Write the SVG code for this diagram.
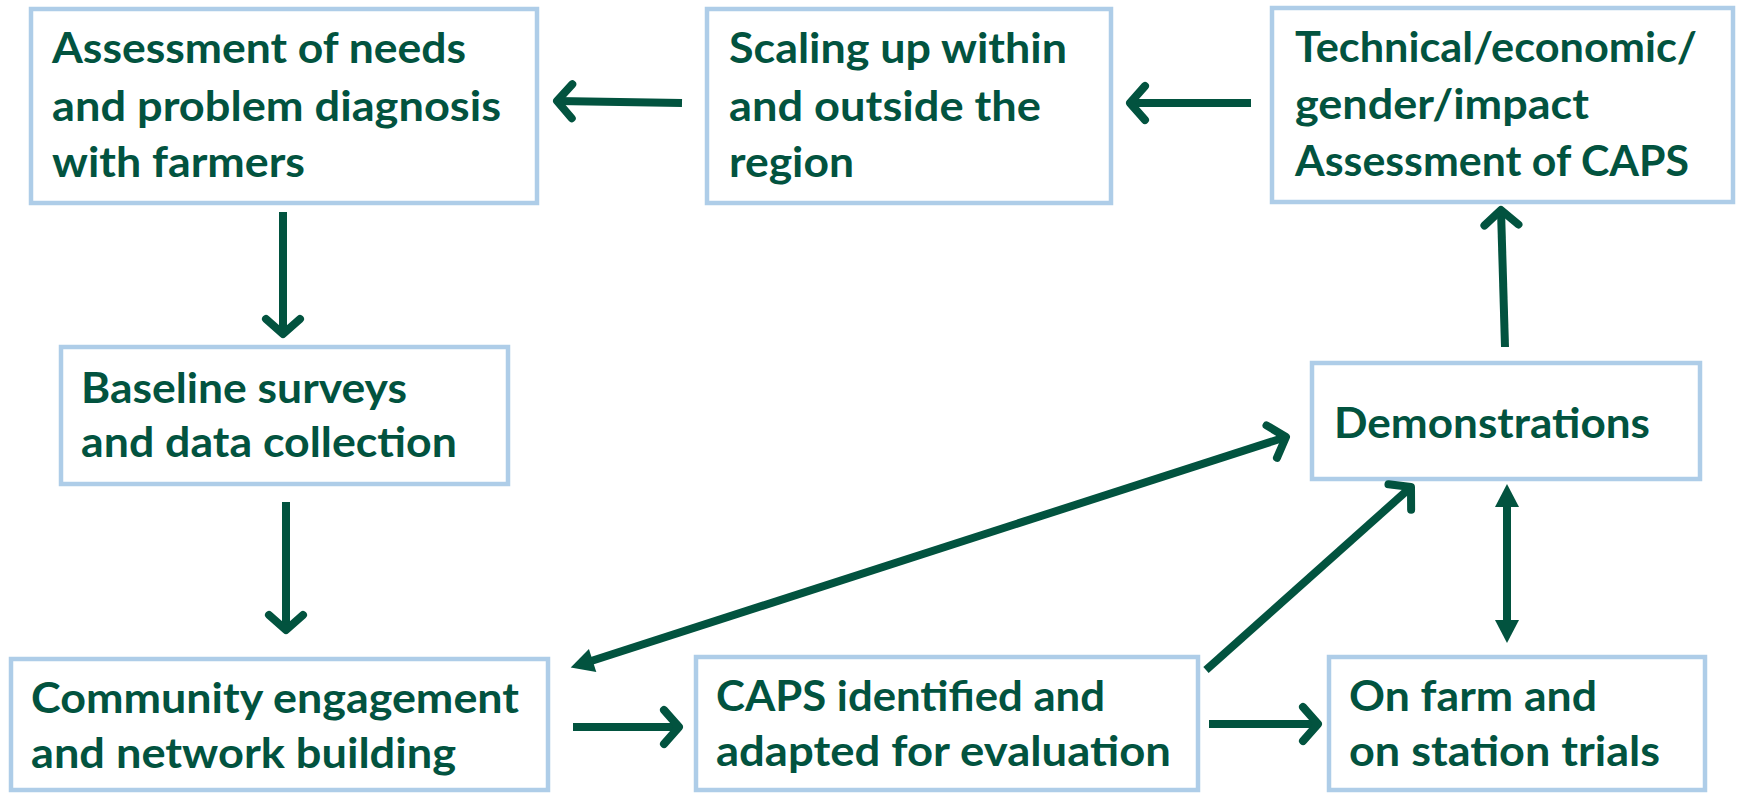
<svg xmlns="http://www.w3.org/2000/svg" width="1739" height="794" viewBox="0 0 1739 794">
<style>
.box{fill:#FFFFFF;stroke:#AECDE8;stroke-width:4.5}
.t{font-family:Lato,"Open Sans","Liberation Sans",sans-serif;font-weight:700;font-size:42px;fill:#02533F}
.c{fill:none;stroke:#02533F;stroke-width:8}
</style>
<defs>
<marker id="chev" markerUnits="userSpaceOnUse" viewBox="-30 -25 40 50" markerWidth="40" markerHeight="50" refX="0" refY="0" orient="auto">
<path d="M-15,-17 L0,0 L-15,17" fill="none" stroke="#02533F" stroke-width="8" stroke-linecap="round" stroke-linejoin="round"/>
</marker>
<marker id="tri" markerUnits="userSpaceOnUse" viewBox="-2 -14 28 28" markerWidth="28" markerHeight="28" refX="8" refY="0" orient="auto-start-reverse">
<path d="M0,-12 L23,0 L0,12 Z" fill="#02533F"/>
</marker>
</defs>
<rect width="1739" height="794" fill="#FFFFFF"/>
<g id="n1">
<rect class="box" x="31" y="9" width="506" height="194"/>
<text class="t" x="52" y="63" textLength="414" lengthAdjust="spacingAndGlyphs">Assessment of needs</text>
<text class="t" x="52" y="121" textLength="449" lengthAdjust="spacingAndGlyphs">and problem diagnosis</text>
<text class="t" x="52" y="177" textLength="253" lengthAdjust="spacingAndGlyphs">with farmers</text>
</g>
<g id="n2">
<rect class="box" x="707" y="9" width="404" height="194"/>
<text class="t" x="729" y="63" textLength="338" lengthAdjust="spacingAndGlyphs">Scaling up within</text>
<text class="t" x="729" y="121" textLength="312" lengthAdjust="spacingAndGlyphs">and outside the</text>
<text class="t" x="729" y="177" textLength="125" lengthAdjust="spacingAndGlyphs">region</text>
</g>
<g id="n3">
<rect class="box" x="1272" y="8" width="461" height="194"/>
<text class="t" x="1295" y="62" textLength="402" lengthAdjust="spacingAndGlyphs">Technical/economic/</text>
<text class="t" x="1295" y="119" textLength="294" lengthAdjust="spacingAndGlyphs">gender/impact</text>
<text class="t" x="1295" y="176" textLength="394" lengthAdjust="spacingAndGlyphs">Assessment of CAPS</text>
</g>
<g id="n4">
<rect class="box" x="61" y="347" width="447" height="137"/>
<text class="t" x="81" y="403" textLength="326" lengthAdjust="spacingAndGlyphs">Baseline surveys</text>
<text class="t" x="81" y="457" textLength="376" lengthAdjust="spacingAndGlyphs">and data collection</text>
</g>
<g id="n5">
<rect class="box" x="1312" y="363" width="388" height="116"/>
<text class="t" x="1334" y="438" textLength="316" lengthAdjust="spacingAndGlyphs">Demonstrations</text>
</g>
<g id="n6">
<rect class="box" x="11" y="659" width="537" height="131"/>
<text class="t" x="31" y="713" textLength="488" lengthAdjust="spacingAndGlyphs">Community engagement</text>
<text class="t" x="31" y="768" textLength="425" lengthAdjust="spacingAndGlyphs">and network building</text>
</g>
<g id="n7">
<rect class="box" x="696" y="657" width="502" height="133"/>
<text class="t" x="716" y="711" textLength="389" lengthAdjust="spacingAndGlyphs">CAPS identified and</text>
<text class="t" x="716" y="766" textLength="455" lengthAdjust="spacingAndGlyphs">adapted for evaluation</text>
</g>
<g id="n8">
<rect class="box" x="1329" y="657" width="376" height="133"/>
<text class="t" x="1349" y="711" textLength="248" lengthAdjust="spacingAndGlyphs">On farm and</text>
<text class="t" x="1349" y="766" textLength="311" lengthAdjust="spacingAndGlyphs">on station trials</text>
</g>
<g id="connectors">
<line class="c" x1="682" y1="103" x2="557" y2="101" marker-end="url(#chev)"/>
<line class="c" x1="1251" y1="103" x2="1130" y2="103" marker-end="url(#chev)"/>
<line class="c" x1="1505" y1="347" x2="1501" y2="210" marker-end="url(#chev)"/>
<line class="c" x1="283" y1="212" x2="283" y2="334" marker-end="url(#chev)"/>
<line class="c" x1="286" y1="502" x2="286" y2="630" marker-end="url(#chev)"/>
<line class="c" x1="573" y1="727" x2="679" y2="727" marker-end="url(#chev)"/>
<line class="c" x1="1209" y1="724" x2="1318" y2="724" marker-end="url(#chev)"/>
<line class="c" x1="1206" y1="670" x2="1411" y2="487" marker-end="url(#chev)"/>
<line class="c" x1="585" y1="663" x2="1286" y2="437" marker-start="url(#tri)" marker-end="url(#chev)"/>
<line class="c" x1="1507" y1="499" x2="1507" y2="628" marker-start="url(#tri)" marker-end="url(#tri)"/>
</g>
</svg>
